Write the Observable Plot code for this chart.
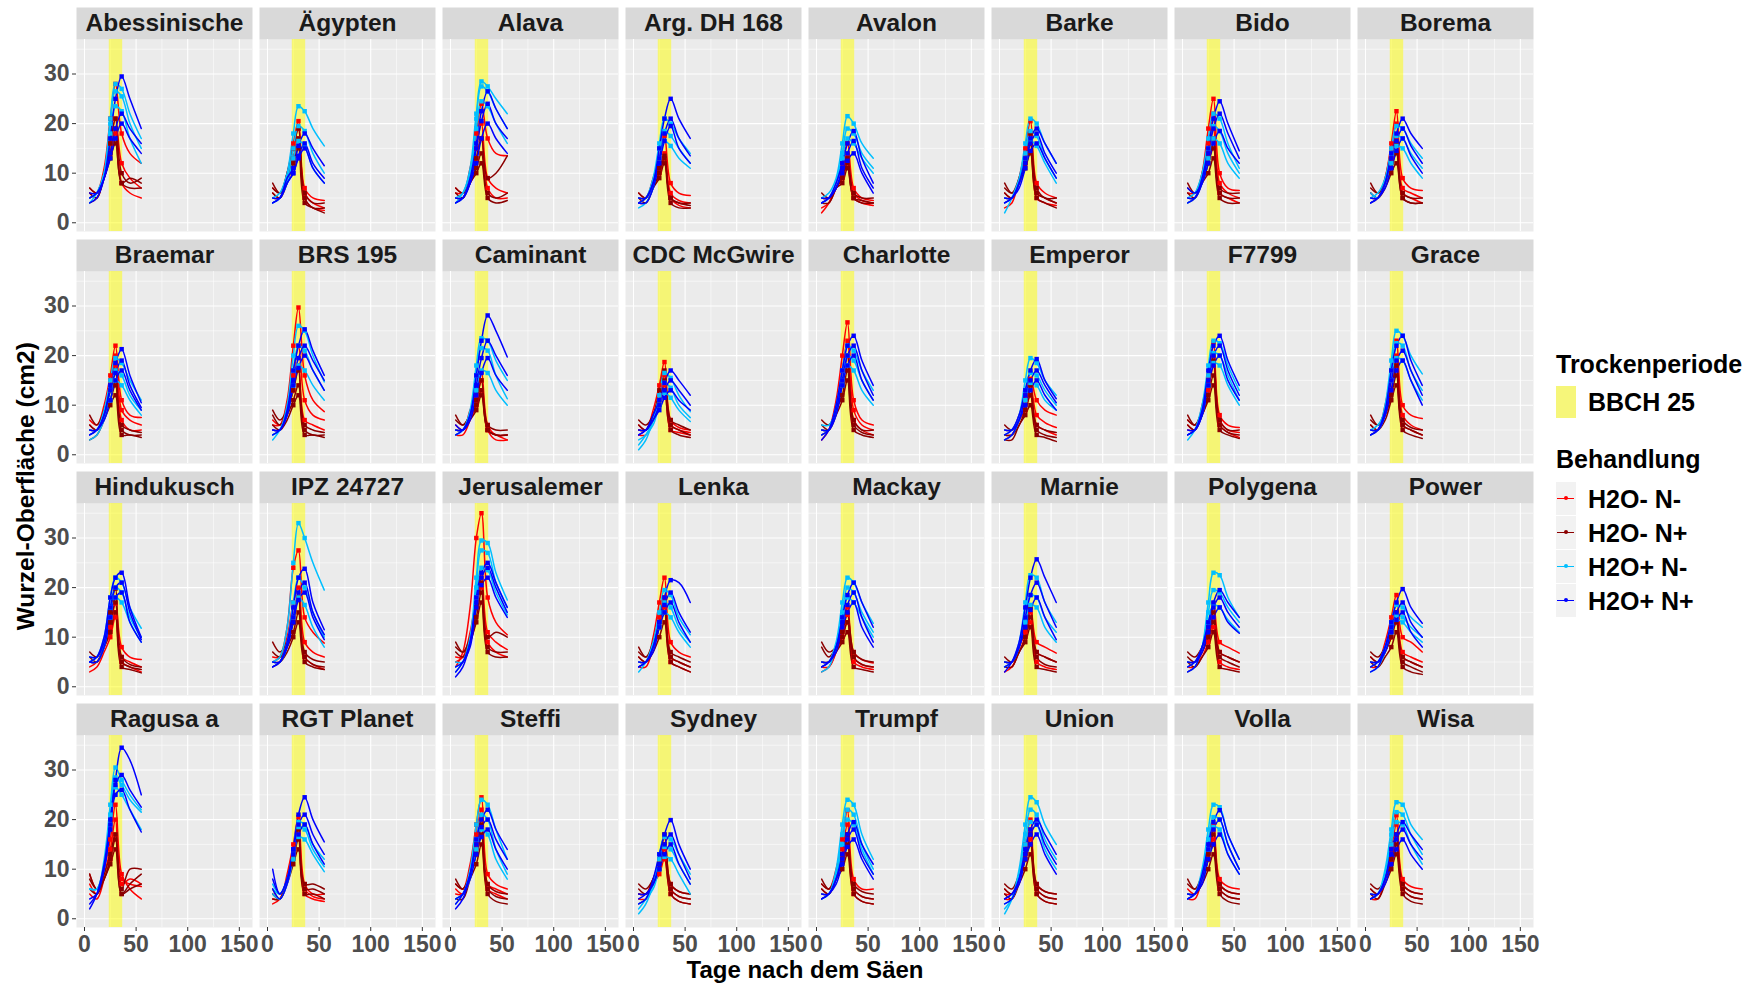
<!DOCTYPE html>
<html><head><meta charset="utf-8">
<script src="https://cdn.jsdelivr.net/npm/d3@7"></script>
<script src="https://cdn.jsdelivr.net/npm/@observablehq/plot@0.6"></script>
<style>
body{margin:0;background:#fff;font-family:'Liberation Sans',Arial,sans-serif;}
#wrap{position:relative;width:1753px;height:984px;overflow:hidden;}
.lbl{position:absolute;font-weight:bold;white-space:nowrap;color:#000;}
.box{position:absolute;}
</style></head><body><div id="wrap"></div>
<script>
const panels = ["Abessinische","Ägypten","Alava","Arg. DH 168","Avalon","Barke","Bido","Borema",
"Braemar","BRS 195","Caminant","CDC McGwire","Charlotte","Emperor","F7799","Grace",
"Hindukusch","IPZ 24727","Jerusalemer","Lenka","Mackay","Marnie","Polygena","Power",
"Ragusa a","RGT Planet","Steffi","Sydney","Trumpf","Union","Volla","Wisa"];
const treatments = ["H2O- N-","H2O- N+","H2O+ N-","H2O+ N+"];
const treatmentColors = ["#ff0000","#8b0000","#00bfff","#0000ff"];
const days = [5,12,19,25,30,36,44,55];
const markerDays = [25,30,36];
const droughtPeriod = [{label:"BBCH 25", start:24, end:37}];
const xTicks = [0,50,100,150];
const xMinor = [25,75,125];
const yTicks = [0,10,20,30];
const yMinor = [5,15,25,35];

const h2oMinusNMinus = [
[[5,6,11,21,28,18,14,12],[6,5,10,16,21,12,9,7],[7,6,9,14,18,8,6,5]],
[[6,5,10,16,20.5,7,5,4.5],[7,6,10,15,19,6,4,3],[5,5,9,13,17,5,3,2.5]],
[[6,6,11,18,24,17,14,13.5],[5,5,10,15,20,9,7,6],[7,6,9,13,17,7,5,5]],
[[5,5,9,13,17.5,8,6,5.5],[4,5,8,11,14,6,4.5,4],[6,5,8,10,13,5,3.5,3]],
[[2,4,8,12,16,7,5,4.5],[3,4,7,10,13.5,6,4.5,4],[5,5,7,9,12,5,4,3.5]],
[[3,4,9,15,20.5,8,6,5],[5,5,9,14,18,6,5,4],[6,5,8,12,16,5,4,3.5]],
[[5,5,10,19,25,10,7,6.5],[6,6,10,16,22,8,6,5],[4,5,9,14,19,6,5,4]],
[[4,5,9,16,22.5,9,7,6.5],[5,5,9,15,20,7,6,5],[6,5,8,13,17,6,5,4]],
[[7,6,10,16,22,11,8,7.5],[6,5,9,15,20,9,7,6],[5,5,9,13,18,7,5,5]],
[[6,6,11,22,29.7,16,11,8.7],[7,6,10,16,22,11,8,7],[5,5,9,13,18,7,6,5]],
[[6,5,9,12,16.7,6,4,4],[5,5,8,11,15,5,4,3],[4,4,7,10,13,5,3,3]],
[[5,5,9,14,18.7,7,5.5,5],[6,5,8,12,16,6,5,4.5],[4,4,7,11,14,5,4.5,4]],
[[3,5,11,20,26.7,11,7,6],[4,5,10,17,23,9,6,5],[5,5,9,15,20,7,5,4]],
[[5,5,8,12,15.3,11,9,8],[4,4,7,11,14,8,6.5,5.5],[3,4,7,9,12,6,5,4]],
[[6,5,10,16,22.7,8,6,5.5],[7,6,9,15,20,7,5,4.5],[5,5,9,13,18,6,4.5,3.5]],
[[5,5,10,17,23,10,8,7.3],[6,5,9,15,20,8,6,5],[4,5,8,13,18,6,5,4]],
[[4,5,8,12,16.8,8,6,5.5],[5,5,8,11,15,6,5,4],[3,4,7,10,14,5,4,3]],
[[5,6,12,24,27.5,14,11,8.8],[6,6,10,17,20,9,7,6],[4,5,9,14,18,6,4.5,3.5]],
[[4,7,16,30,35,18,13,10.5],[5,6,11,18,22,11,9,7.5],[6,6,10,16,20,9,7,6]],
[[6,5,10,17,22,9,7,6],[5,5,9,14,18,6,5,4],[4,4,8,12,16,5,4,3]],
[[5,5,8,12,16,7,5.5,4.8],[4,4,7,11,14.5,6,4.5,4],[3,4,7,10,13,5,4,3.5]],
[[5,5,8,12,16,9,8,6.8],[4,4,8,11,15,7,6,5],[3,4,7,10,13,5,4,3.5]],
[[5,5,8,12,16.8,9,8,6.8],[4,4,7,10,14,7,6,5],[3,4,6,9,12,5,4,3.5]],
[[6,5,9,14,18.5,10,9,7],[5,5,8,11,15,7,6,5],[4,4,7,10,13,6,5,4]],
[[9,6,10,16,23,9,6,4],[7,5,9,14,20,8,7,6.5],[5,4,8,12,17,7,8,7]],
[[4,4,9,15,20.5,7,5,5],[5,4,8,14,19,6,4.5,4],[3,4,8,13,17,5,4,3.5]],
[[7,6,11,19,24.5,9,7,6],[6,5,10,17,22,7,6,5],[5,5,9,15,20,6,5,4]],
[[5,5,8,12,16.5,7,5.5,5],[4,4,7,10,14,6,4.5,4],[3,4,7,9,12,5,3.5,3]],
[[7,6,10,16,21.9,8,6,6],[6,5,9,14,19,6,4.5,4],[5,5,8,13,17,5,3.5,3]],
[[5,5,9,15,20,7,5.5,5],[4,4,8,13,18,6,4.5,4],[6,5,8,12,16,5,3.5,3]],
[[6,5,9,14,19,8,6.5,6],[5,5,8,13,18,7,5.5,5],[4,4,8,12,16,6,4.5,4]],
[[6,5,9,15,20.9,8,6.5,6],[5,5,8,14,19,7,5.5,5],[4,4,8,12,17,6,4.5,4]]
];
const h2oMinusNPlus = [
[[6,5,10,16,21,10,8,9],[4,5,9,14,19,8,9,8],[7,6,9,13,16,8,7,7]],
[[7,6,10,15,19,6,4,4],[8,6,9,13,17,5,3,3],[6,5,8,12,15,4,3,2]],
[[6,5,9,13,17,9,10,13.5],[7,6,8,11,14,6,5,6],[5,5,8,10,12,5,4,4.5]],
[[6,5,8,11,13.5,5,4,4],[5,4,7,10,13,5,4,3.5],[4,4,7,9,12,4,3,3]],
[[5,5,7,10,13,6,5,5],[4,4,7,9,12,5,4.5,4],[6,5,7,8,11,5,4,4]],
[[7,6,9,13,18,7,5,5],[8,6,8,12,16,6,5,4],[6,5,8,11,14,5,4,3]],
[[8,6,9,13,17,7,6,6],[7,6,8,12,15,6,5,5],[6,5,8,10,13,5,4,4]],
[[7,6,8,12,16,6,5,5],[8,6,8,11,14,5,4,4],[6,5,7,10,12,5,4,4]],
[[8,6,9,13,17,6,5,4.5],[6,5,8,11,14,5,4,4],[3,4,7,10,12,4,4,3.5]],
[[9,7,9,13,17,6,5,4.5],[8,6,8,11,14,5,4,4],[6,5,7,10,12,4,4,3.5]],
[[8,6,8,11,15,6,5,5],[7,6,8,10,13,5,4,4],[5,5,7,9,12,5,4,4]],
[[7,6,8,13,17,7,6,5],[6,5,8,11,15,6,5,4],[5,5,7,10,13,5,4,3.5]],
[[7,6,9,14,20,7,5,5],[6,5,9,12,17,6,4.5,4],[5,5,8,11,15,5,4,3.5]],
[[6,5,7,10,14,6,5,4.5],[4,4,6,9,12,5,4,3.5],[3,3,6,8,10,4,3.5,2.7]],
[[8,6,9,14,19,7,5,5],[7,6,8,12,16,6,4.5,4],[6,5,8,11,14,5,4,3.3]],
[[7,6,9,13,18,7,5.5,5],[8,6,8,12,16,6,5,4],[6,5,7,11,14,5,4,3.3]],
[[7,6,9,15,19.8,6,4.5,4],[6,5,8,13,17,5,4,3.5],[5,5,8,11,15,4,3.5,2.8]],
[[9,7,9,13,18,7,5.5,5],[7,6,8,11,15,6,4.5,4],[5,5,7,10,13,5,4,3.5]],
[[9,7,10,16,21,10,11,10],[8,7,9,14,19,8,7,7],[7,6,9,13,17,7,6,6]],
[[8,6,9,13,17,7,6,5],[7,6,8,12,15,6,5,4],[6,5,7,10,13,5,4,3]],
[[8,6,8,11,15,7,5.5,5],[9,7,8,10,13,6,4.5,4],[5,5,7,9,11,4,3.5,3]],
[[6,5,8,12,16,7,6,5],[5,5,7,10,14,6,4.5,4],[4,4,7,9,12,4,3.5,3]],
[[7,6,8,11,15,7,6,5],[6,5,7,10,13,6,5,4],[5,4,6,8,11,4,3.5,3]],
[[7,6,8,11,15,6,5,4],[6,5,7,10,13,5,4,3],[5,4,6,8,11,4,3,2.5]],
[[9,6,9,13,17,6,10,10],[8,6,8,12,16,5,7,9],[6,5,8,11,14,5,6,7]],
[[5,4,8,13,18,7,7,6],[4,4,8,12,16,6,6,5],[6,4,7,11,14,5,5,4]],
[[8,6,9,14,19,7,5.5,5],[7,6,9,13,17,6,4.5,4],[4,4,8,11,15,5,3.5,3]],
[[7,6,8,12,17,7,5.5,5],[6,5,8,11,15,6,4.5,4],[5,5,7,10,13,5,3.5,3]],
[[8,6,9,13,17,7,5.5,5],[7,6,8,12,15,6,4.5,4],[6,5,8,10,13,5,3.5,3]],
[[7,6,9,13,17,7,5.5,5],[6,5,8,12,15,6,4.5,4],[5,4,7,10,13,5,3.5,3]],
[[8,6,9,13,17,7,5.5,5],[7,6,8,12,15,6,4.5,4],[5,5,7,10,13,5,3.5,3]],
[[7,6,8,12,17,7,5.5,5],[6,5,8,11,15,6,4.5,4],[5,4,7,10,13,5,3.5,3]]
];
const h2oPlusNMinus = [
[[4,6,10,21,28,27,22,17],[5,6,10,20,26.5,25.5,20,15],[5,6,9,18,23.5,22.5,17,12]],
[[5,6,10,18,23.5,22.5,19,15.5],[4,5,9,15,19.5,18.5,14,10],[4,5,8,13,16.5,15.5,11,8]],
[[5,6,11,22,28.5,27.5,25,22],[4,6,10,21,27.5,26.5,23,19],[4,5,9,19,24.5,23.5,20,16]],
[[4,5,9,16,21,20,17,14],[5,5,8,15,18.5,17.5,15,12],[3,4,7,13,16.5,15.5,13,11]],
[[5,6,9,16,21.5,20,16,13],[4,5,8,14,19,18,14,11],[4,5,8,13,17,16,13,10]],
[[2,5,9,16,21,20,16,12],[4,5,8,14,18.5,17.5,13,9],[5,5,8,13,16.5,15.5,12,8]],
[[5,6,10,17,22,21,16,11],[4,5,9,15,19.5,18.5,14,10],[4,5,8,13,17,16,12,9]],
[[5,6,9,15,19.5,19,16,13],[4,5,8,14,17.5,17,14,11],[6,5,8,12,15.5,15,12,9]],
[[4,5,9,15,19.5,18.5,15,11],[5,5,8,13,17,16,12,9],[3,4,7,11,15,14,11,8]],
[[4,5,10,20,26,25,20,14.7],[3,5,9,17,22,21,17,13],[4,5,8,14,18,17,14,11]],
[[4,5,9,18,23.5,23,19,15],[5,5,8,16,21.5,21,16,11.3],[4,5,8,13,17,16.5,13,10]],
[[1,3,7,12,16.5,15.5,12,8.7],[2,4,7,11,14.5,13.5,10,7.5],[3,4,6,10,12.5,11.5,9,6.7]],
[[4,5,10,17,22,21,17,13],[5,5,9,15,20,19,15,11],[6,6,9,14,18,17,13,10]],
[[4,5,8,15,19.5,18.5,15,12],[3,4,7,13,16.5,16,13,10],[5,5,7,11,14.5,14,11,9]],
[[3,5,10,18,23,22.5,18,13],[4,5,9,16,20.5,20,16,11],[4,5,8,14,18.5,18,14,10]],
[[4,5,10,19,25,24,20,16.3],[5,6,9,17,22.5,22,17,13],[5,5,8,15,19.5,19,15,11]],
[[5,6,10,18,22,21,16,11.8],[6,6,9,16,20,19,14,10],[5,5,8,14,18,17,13,9]],
[[5,6,12,25,33,30,25,19.5],[4,5,9,17,22,20,15,10],[5,5,8,14,18,16.5,12,8]],
[[3,5,10,22,29.5,29,23,17.5],[4,5,9,20,27.5,27,21,16],[5,5,9,18,24,23.5,19,14.5]],
[[3,5,9,15,19.5,18.5,14,10.5],[4,5,8,13,17,16,12,9],[5,5,8,12,15,14,11,8]],
[[4,5,9,17,22,21,17,12.8],[5,5,8,15,20,19,15,11],[3,4,8,14,18,17,14,10]],
[[4,5,9,17,22.5,22,17,13],[5,5,8,14,18.5,18,14,11],[4,5,8,13,16.5,16,12,9]],
[[3,4,8,17,23,22.5,18,14],[4,5,8,15,19.5,19,16,13],[5,5,8,13,16.5,16,13.5,11]],
[[4,5,8,13,16.5,16,14,12],[5,5,8,12,14.5,14,12,10],[3,4,7,11,13.5,13,11,9]],
[[6,6,12,23,30.5,28,25,22],[6,6,11,21,28.5,27,24,21.5],[6,6,10,19,26.5,25,22,18]],
[[7,5,8,14,19.5,19,15,12],[6,5,8,13,18.5,18,14,10.5],[5,4,7,12,16.5,16,13,9.5]],
[[4,5,10,19,24,23,18,12],[3,5,9,16,21,20,14,9],[4,5,8,14,18,17,12,8]],
[[1,3,7,13,16.5,16,13,9],[2,4,7,12,14.5,14,11,7],[3,4,6,10,12.5,12,9,5]],
[[4,5,10,19,24,23,17,12],[5,5,9,17,22,21,15,10],[4,5,8,15,20,19,14,9]],
[[1,4,10,19,24.5,23.5,19,15],[2,4,9,17,22,21,16,12],[3,4,8,15,19.5,19,14,10]],
[[4,5,10,18,23,22.5,17,12],[5,5,9,16,20.5,20,15,10],[4,5,8,14,18.5,18,13,9]],
[[4,5,10,18,23.5,23,19,16],[5,5,9,17,21.5,21,17,13],[4,5,8,15,19.5,19,15,11]]
];
const h2oPlusNPlus = [
[[4,5,9,17,25,29.5,25,19],[5,6,9,14,19,22,19,16],[6,6,9,13,17,20,17,14]],
[[4,5,9,11,15.5,18,15,11.5],[5,5,8,10,13.5,16,12,9],[4,5,8,10,13,15,11,8]],
[[4,5,9,16,22.5,26.5,23,19],[5,5,8,15,20.5,24,20,17],[4,5,8,12,17,20,17,14]],
[[4,5,8,15,21,25,21,17],[5,5,8,13,18,21,17,13.5],[4,4,7,12,16.5,19.5,15,12]],
[[4,5,8,12,16,18.5,13,8],[5,5,7,11,14,16.5,11,7],[4,5,7,10,12.5,14,10,6]],
[[4,5,8,13,17,19,16,12],[5,5,8,12,16,18,14,10],[4,5,7,11,14.5,16,13,9]],
[[4,5,9,15,21,24.5,20,14.5],[5,5,8,14,19,22,18,13],[7,6,8,12,16,18.5,15,12]],
[[4,5,8,14,18,21,18,15],[5,5,8,13,16.5,19,15.5,12],[4,5,7,11,14.5,17,13.5,10]],
[[4,5,8,14,18.5,21.3,16,10.5],[5,5,8,13,16.5,19,14,9.5],[4,5,7,11,15,17,13,9]],
[[5,5,9,17,22,25.3,21,16],[4,5,8,15,19.5,22,19,15],[5,5,8,14,17.5,20,17,13]],
[[5,5,8,16,23,28.1,25,19.7],[4,5,8,14,19.5,23,20,16],[6,5,7,12,16.5,19.5,16,13]],
[[4,5,8,11,14.5,17,15,12],[5,5,7,10,13,15,13,10],[4,5,7,9,11.5,13,11,9]],
[[3,5,10,17,22,24,19,14],[4,5,9,15,20,22,17,12],[5,5,8,14,18,20,15,11]],
[[4,5,8,13,17,19.3,15,11.3],[5,5,7,12,15,17,14,10.5],[3,4,7,10,13,15,12,9]],
[[4,5,9,17,22,24,19,14],[5,5,8,15,20,22,17,12],[4,5,8,14,18,20,15,11]],
[[4,5,9,17,22,24,19,14],[5,5,8,15,19,21,17,12],[4,5,8,13,17,19,15,10]],
[[5,6,10,18,22,23,16,10],[6,6,9,16,20,21,15,9.5],[5,5,8,14,18,19,13,9]],
[[4,5,9,16,22,23.8,17,11.5],[5,5,8,14,19,21,15,10.5],[4,5,8,13,17.5,19,14,9.5]],
[[2,4,9,18,23,25,21,16],[3,5,9,17,22,24,20,15],[4,5,8,16,20.5,22,18,14]],
[[4,5,8,13,18,21.5,21,17],[5,5,8,13,16.5,19,15,11],[4,5,7,12,15,17,13,9]],
[[4,5,8,14,18.5,21,17,12],[5,5,8,13,16.5,19,14,9],[4,5,7,12,15,17,12,8]],
[[3,5,9,16,22,25.7,22,17],[4,5,8,14,18.5,21,17,12],[5,5,8,12,15.5,18,14,9.5]],
[[3,4,8,13,17,19.5,17,14],[4,5,8,12,16,18,15,12],[5,5,7,11,14,16,13,10.8]],
[[3,4,8,13,17,19.7,16,12.8],[4,5,8,12,15,17,13,10],[5,5,7,11,13.5,15,11,8]],
[[2,5,11,20,28,34.5,32,25],[3,5,10,19,27,29,26,22.5],[4,5,10,18,25,26,22,17.5]],
[[10,5,8,14,21,24.5,20,15.5],[8,5,8,14,19,21,17,13],[6,4,7,13,17,19,15,11]],
[[2,4,9,16,20,22,18,14],[3,5,9,15,18.5,20,16,12],[4,5,8,13,16.5,18,14,10]],
[[3,4,8,13,17,19.9,15,10],[4,5,7,11,15,17,13,8],[5,5,7,10,13,15,11,7]],
[[4,5,8,13,17,19.5,15,11],[5,5,8,12,16,18,13,9],[4,5,7,11,14.5,16,12,8]],
[[3,4,8,14,18,20,17,13],[4,5,8,13,17,19,15,11],[4,5,7,12,15,17,13,9]],
[[4,5,9,15,19.5,21.9,17,12],[5,5,8,14,18,20,15,10],[4,5,7,12,15,17,13,9]],
[[4,5,8,14,17,19.5,17,14],[5,5,8,13,16,18,15,12],[4,5,7,11,14,16,13,10]]
];

const series = [h2oMinusNMinus, h2oMinusNPlus, h2oPlusNMinus, h2oPlusNPlus];
const rows = [];
panels.forEach((name, p) => {
  series.forEach((s, t) => {
    s[p].forEach((vals, k) => {
      vals.forEach((v, i) => rows.push({panel: name, col: p % 8, row: Math.floor(p / 8),
        treatment: treatments[t], id: p + "-" + t + "-" + k, day: days[i], value: v}));
    });
  });
});
const panelTable = panels.map((name, i) => ({name, col: i % 8, row: Math.floor(i / 8)}));
const markers = rows.filter(d => markerDays.includes(d.day));

const FONT = "'Liberation Sans', Arial, sans-serif";
const stripH = 32, panelH = 192;

const chart = Plot.plot({
  width: 1753, height: 984,
  marginLeft: 75, marginRight: 218, marginTop: 38.5, marginBottom: 56.3,
  style: {fontFamily: FONT, background: "white", overflow: "visible"},
  fx: {domain: d3.range(8), axis: null, paddingInner: 0.0366, paddingOuter: 0},
  fy: {domain: d3.range(4), axis: null, paddingInner: 0.174, paddingOuter: 0},
  x: {domain: [-7.75, 162.75]},
  y: {domain: [-1.76, 36.96]},
  color: {domain: treatments, range: treatmentColors},
  marks: [
    Plot.frame({fill: "#ebebeb"}),
    Plot.frame({fill: "#d9d9d9", insetTop: -stripH, insetBottom: panelH}),
    Plot.ruleX(xMinor, {stroke: "white", strokeWidth: 0.55}),
    Plot.ruleY(yMinor, {stroke: "white", strokeWidth: 0.55}),
    Plot.ruleX(xTicks, {stroke: "white", strokeWidth: 1.1}),
    Plot.ruleY(yTicks, {stroke: "white", strokeWidth: 1.1}),
    Plot.rect(droughtPeriod, {x1: "start", x2: "end", fill: "yellow", fillOpacity: 0.5}),
    Plot.line(rows, {x: "day", y: "value", z: "id", stroke: "treatment", fx: "col", fy: "row",
      curve: "catmull-rom", strokeWidth: 1.5}),
    Plot.dot(markers, {x: "day", y: "value", fill: "treatment", fx: "col", fy: "row",
      symbol: "square", r: 2.5}),
    Plot.text(panelTable, {fx: "col", fy: "row", text: "name", frameAnchor: "top", dy: -16,
      lineAnchor: "middle", fontSize: 24.5, fontWeight: "bold", fill: "#1a1a1a"}),
    Plot.axisX({ticks: xTicks, tickSize: 4, tickPadding: 4, fontSize: 23, fontWeight: "bold",
      fill: "#4d4d4d", stroke: "#333", label: null}),
    Plot.axisY({ticks: yTicks, tickSize: 4, tickPadding: 3, fontSize: 23, fontWeight: "bold",
      fill: "#4d4d4d", stroke: "#333", label: null})
  ]
});
const wrap = document.getElementById("wrap");
wrap.appendChild(chart);

function label(text, left, baseline, size, extra) {
  const d = document.createElement("div");
  d.className = "lbl";
  d.textContent = text;
  d.style.left = left + "px";
  d.style.top = (baseline - 0.8465 * size) + "px";
  d.style.fontSize = size + "px";
  d.style.lineHeight = size + "px";
  if (extra) Object.assign(d.style, extra);
  wrap.appendChild(d);
  return d;
}
function box(left, top, w, h, bg, extra) {
  const d = document.createElement("div");
  d.className = "box";
  Object.assign(d.style, {left: left + "px", top: top + "px", width: w + "px", height: h + "px", background: bg}, extra || {});
  wrap.appendChild(d);
  return d;
}
// axis titles
const xt = label("Tage nach dem Säen", 805, 978, 24);
xt.style.transform = "translateX(-50%)";
const yt = label("Wurzel-Oberfläche (cm2)", 26, 486, 24.5);
yt.style.top = (486 - 12.25) + "px";
yt.style.transform = "translate(-50%,0) rotate(-90deg)";
yt.style.transformOrigin = "50% 50%";
yt.style.lineHeight = "24.5px";
// legend
label("Trockenperiode", 1556, 373, 25);
box(1556, 386, 20, 32, "#f6f67a");
label(droughtPeriod[0].label, 1588, 411, 25);
label("Behandlung", 1556, 468, 25);
treatments.forEach((t, i) => {
  const top = 481.7 + 34 * i;
  box(1556, top, 20, 33, "#f2f2f2");
  box(1557, top + 15.8, 17, 1.5, treatmentColors[i]);
  box(1563.5, top + 14.5, 4, 4, treatmentColors[i], {borderRadius: "50%"});
  label(t, 1588, top + 26, 25);
});
</script></body></html>
